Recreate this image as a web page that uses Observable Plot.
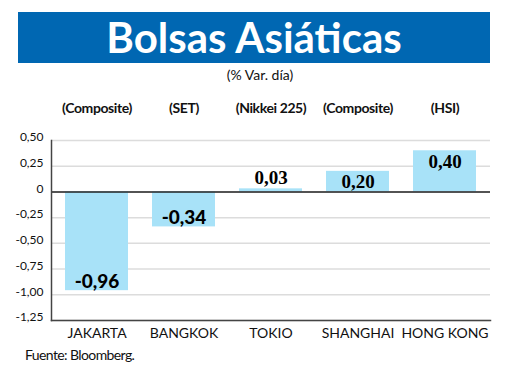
<!DOCTYPE html>
<html><head><meta charset="utf-8">
<script src="https://cdn.jsdelivr.net/npm/d3@7"></script>
<script src="https://cdn.jsdelivr.net/npm/@observablehq/plot@0.6"></script>
<style>
body{margin:0;background:#fff;}
#wrap{position:relative;width:520px;height:390px;overflow:hidden;font-family:Lato,sans-serif;color:#111;}
#banner{position:absolute;left:18px;top:12px;width:472px;height:51px;background:#0067b2;color:#fff;font:700 42px Lato,sans-serif;text-align:center;line-height:51px;}
#sub{position:absolute;left:0;width:520px;top:66px;text-align:center;font:14px Lato,sans-serif;}
#chart{position:absolute;left:0;top:88px;}
#cap{position:absolute;left:25px;top:346px;font:14px Lato,sans-serif;letter-spacing:-0.6px;}
.idx text{letter-spacing:-0.4px;}
</style></head>
<body>
<div id="wrap">
  <div id="banner">Bolsas Asiáticas</div>
  <div id="sub">(% Var. día)</div>
  <div id="chart"></div>
  <div id="cap">Fuente: Bloomberg.</div>
</div>
<script>
const cities = ["JAKARTA", "BANGKOK", "TOKIO", "SHANGHAI", "HONG KONG"];
const indices = ["(Composite)", "(SET)", "(Nikkei 225)", "(Composite)", "(HSI)"];
const values = [-0.96, -0.34, 0.03, 0.20, 0.40];
const yTicks = [0.5, 0.25, 0, -0.25, -0.5, -0.75, -1, -1.25];

const data = cities.map((c, i) => ({city: c, index: indices[i], value: values[i]}));
const fmt = d => d === 0 ? "0" : d.toFixed(2).replace(".", ",");

const chart = Plot.plot({
  width: 520, height: 258,
  marginTop: 52, marginBottom: 26, marginLeft: 51, marginRight: 30,
  x: {domain: cities, paddingInner: 0.28, paddingOuter: 0.14, label: null},
  y: {domain: [-1.25, 0.5], label: null},
  style: {fontFamily: "Lato, sans-serif", background: "#fff", color: "#111"},
  marks: [
    Plot.ruleY(yTicks, {stroke: "#dcdcdc", strokeWidth: 1.5}),
    Plot.barY(data, {x: "city", y: "value", fill: "#a8e2f8"}),
    Plot.ruleY([0], {stroke: "#222", strokeWidth: 1.5}),
    Plot.frame({anchor: "bottom", stroke: "#444", strokeWidth: 1.5}),
    Plot.frame({anchor: "left", stroke: "#444", strokeWidth: 1.5}),
    Plot.axisY({ticks: yTicks, tickFormat: fmt, tickSize: 0, tickPadding: 8, fontSize: 12, dy: -3, label: null}),
    Plot.axisX({tickSize: 0, tickPadding: 8, fontSize: 14, label: null}),
    Plot.text(data, {x: "city", text: "index", frameAnchor: "top", dy: -37, fontSize: 14, fontWeight: "bold", className: "idx"}),
    Plot.text(data, {filter: d => d.value < 0, x: "city", y: "value", text: d => fmt(d.value), dy: -9, fontSize: 19, fontWeight: 900, fill: "#000"}),
    Plot.text(data, {filter: d => d.value >= 0.1, x: "city", y: "value", text: d => fmt(d.value), dy: 11, fontSize: 19, fontWeight: "bold", fontFamily: "Liberation Serif, serif", fill: "#000"}),
    Plot.text(data, {filter: d => d.value >= 0 && d.value < 0.1, x: "city", y: "value", text: d => fmt(d.value), dy: -11, fontSize: 19, fontWeight: "bold", fontFamily: "Liberation Serif, serif", fill: "#000"})
  ]
});
document.getElementById("chart").appendChild(chart);
</script>
</body></html>
